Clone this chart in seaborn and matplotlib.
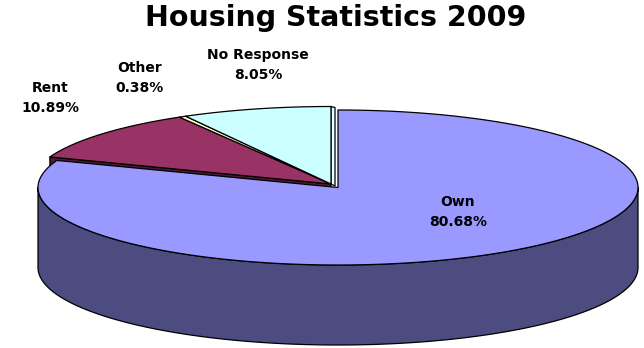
import numpy as np
import matplotlib
matplotlib.use("Agg")
import matplotlib.pyplot as plt
import seaborn as sns
from matplotlib.patches import Polygon

# ---- data ----
categories = ["Own", "Rent", "Other", "No Response"]
shares = [80.68, 10.89, 0.38, 8.05]
title = "Housing Statistics 2009"

# ---- style ----
sns.set_theme(style="white")
plt.rcParams['font.family'] = ['DejaVu Sans']
top_colors = sns.color_palette(["#9999FF", "#993366", "#FFFFCC", "#CCFFFF"])
side_colors = sns.color_palette(["#4C4C80", "#4D1A33", "#80806A", "#E8FFFF"])

fig = plt.figure(figsize=(6.44, 3.48), dpi=100)
ax = fig.add_axes([0, 0, 1, 1])
ax.set_xlim(0, 644)
ax.set_ylim(348, 0)
ax.axis("off")

RX, RY, DEPTH = 300, 77.5, 80
centers = [(338, 187.5), (331, 184), (331, 184), (331, 184)]
label_pos = [(458, 212), (50, 98), (140, 78), (258, 65)]
EDGE = dict(edgecolor="black", linewidth=0.9, joinstyle="round")


def pt(c, th, dz=0.0):
    r = np.radians(th)
    return (c[0] + RX * np.cos(r), c[1] - RY * np.sin(r) + dz)


def arc(c, a1, a2, dz=0.0, n=200):
    th = np.linspace(a1, a2, n)
    return [pt(c, t, dz) for t in th]


# angles (start at 12 o'clock, clockwise)
total = sum(shares)
starts, ends = [], []
a = 90.0
for s in shares:
    starts.append(a)
    a -= 360.0 * s / total
    ends.append(a)

own_i = 0
others = [1, 2, 3]

# radial face of Rent at its start angle (visible sliver on the left)
c = centers[1]
poly = [c, pt(c, starts[1]), pt(c, starts[1], DEPTH), (c[0], c[1] + DEPTH)]
ax.add_patch(Polygon(poly, closed=True, facecolor=side_colors[1], **EDGE, zorder=1))

# radial face of No Response at its end angle (thin light strip)
c = centers[3]
p_rim = pt(c, ends[3])
poly = [p_rim, c, (c[0] + 4, c[1] + 2), (p_rim[0] + 4, p_rim[1] + 1)]
ax.add_patch(Polygon(poly, closed=True, facecolor=side_colors[3], **EDGE, zorder=1))

# top faces of the back slices
for i in others:
    c = centers[i]
    poly = [c] + arc(c, starts[i], ends[i])
    ax.add_patch(Polygon(poly, closed=True, facecolor=top_colors[i], **EDGE, zorder=2))

# front side wall of Own
c = centers[own_i]
lo, hi = max(ends[own_i], -180), min(starts[own_i], 0)
if hi > lo:
    poly = arc(c, lo, hi) + arc(c, hi, lo, DEPTH)
    ax.add_patch(Polygon(poly, closed=True, facecolor=side_colors[own_i], **EDGE, zorder=3))

# top face of Own
poly = [c] + arc(c, starts[own_i], ends[own_i], n=400)
ax.add_patch(Polygon(poly, closed=True, facecolor=top_colors[own_i], **EDGE, zorder=4))

# labels
for i, cat in enumerate(categories):
    x, y = label_pos[i]
    ax.text(x, y, f"{cat}\n{shares[i]:.2f}%", ha="center", va="center",
            fontsize=10, fontweight="bold", color="black", linespacing=1.55, zorder=5)

ax.text(336, 18, title, ha="center", va="center", fontsize=20.5,
        fontweight="bold", color="black")

fig.savefig("out.png", dpi=100, facecolor="white")
